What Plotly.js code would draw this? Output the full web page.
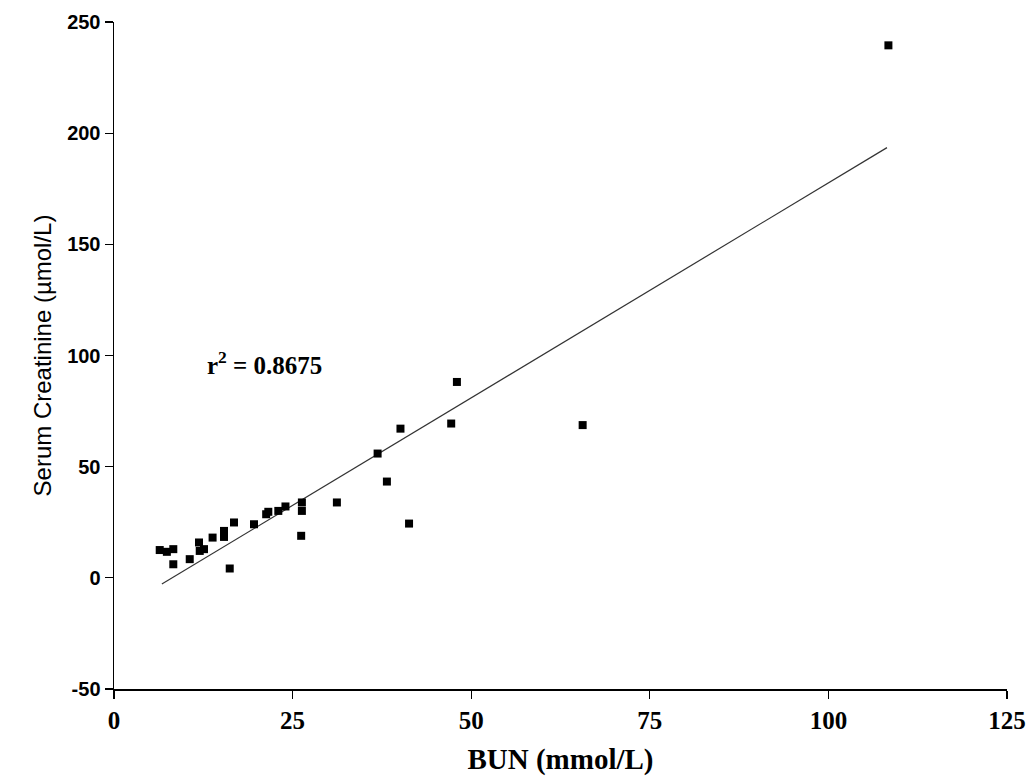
<!DOCTYPE html>
<html>
<head>
<meta charset="utf-8">
<script src="https://cdn.plot.ly/plotly-3.0.1.min.js"></script>
<style>html,body{margin:0;padding:0;background:#fff;}#chart{width:1036px;height:776px;}</style>
</head>
<body>
<div id="chart"></div>
<script>
// BUN (mmol/L) values
const bun = [6.4, 7.4, 8.3, 8.3, 10.6, 11.9, 12.0, 12.6, 13.8, 15.4, 15.4, 16.8, 16.2, 19.6, 21.3, 21.6, 23.0, 24.0, 26.3, 26.3, 26.2, 31.2, 36.9, 38.2, 40.1, 41.3, 47.2, 48.0, 65.6, 108.4];
// Serum creatinine (µmol/L) values
const creat = [12.5, 11.7, 12.9, 6.1, 8.4, 15.9, 12.1, 12.9, 18.1, 21.1, 18.4, 24.9, 4.2, 24.1, 28.6, 29.7, 30.1, 32.1, 33.9, 30.1, 18.9, 33.9, 55.9, 43.3, 67.1, 24.4, 69.4, 88.1, 68.7, 239.5];
// Regression line end points
const fitX = [6.7, 108.2];
const fitY = [-2.8, 193.5];
const xTicks = [0, 25, 50, 75, 100, 125];
const yTicks = [-50, 0, 50, 100, 150, 200, 250];
const r2Text = "r<sup>2</sup> = 0.8675";

const traces = [
  {x: fitX, y: fitY, mode: 'lines', type: 'scatter', line: {color: '#333', width: 1.2}, hoverinfo: 'skip'},
  {x: bun, y: creat, mode: 'markers', type: 'scatter', marker: {symbol: 'square', size: 8, color: '#000'}}
];

const layout = {
  width: 1036, height: 776,
  margin: {l: 114, r: 29, t: 22, b: 87},
  paper_bgcolor: '#fff', plot_bgcolor: '#fff',
  showlegend: false,
  xaxis: {
    range: [0, 125], tickvals: xTicks, ticktext: xTicks.map(String),
    showgrid: false, zeroline: false, showline: true, linecolor: '#000', linewidth: 1.5,
    ticks: 'outside', ticklen: 8, tickwidth: 1.2, tickcolor: '#000',
    tickfont: {family: 'Liberation Serif, Times New Roman, serif', size: 25, color: '#000', weight: 'bold'},
    title: {text: '<b>BUN (mmol/L)</b>', standoff: 18, font: {family: 'Liberation Serif, Times New Roman, serif', size: 29, color: '#000'}}
  },
  yaxis: {
    range: [-50, 250], tickvals: yTicks, ticktext: yTicks.map(String),
    showgrid: false, zeroline: false, showline: true, linecolor: '#000', linewidth: 1.5,
    ticks: 'outside', ticklen: 8, tickwidth: 1.2, tickcolor: '#000',
    tickfont: {family: 'Liberation Sans, Arial, sans-serif', size: 20, color: '#000', weight: 'bold'},
    title: {text: 'Serum Creatinine (µmol/L)', standoff: 8, font: {family: 'Liberation Sans, Arial, sans-serif', size: 24, color: '#000'}}
  },
  annotations: [{
    x: 12.7, y: 96.7, xref: 'x', yref: 'y', xanchor: 'left', yanchor: 'middle',
    text: '<b>' + r2Text + '</b>', showarrow: false,
    font: {family: 'Liberation Serif, Times New Roman, serif', size: 25, color: '#000'}
  }]
};

Plotly.newPlot('chart', traces, layout, {displayModeBar: false, staticPlot: true});
</script>
</body>
</html>
